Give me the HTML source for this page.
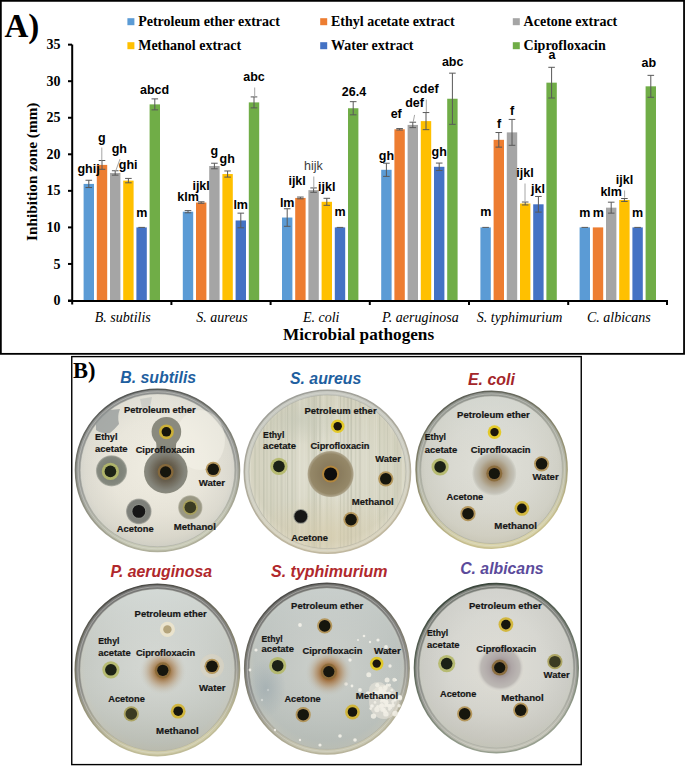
<!DOCTYPE html>
<html><head><meta charset="utf-8"><style>
html,body{margin:0;padding:0;background:#fff;}
svg{display:block}
text{font-family:"Liberation Serif",serif;}
.leg{font-weight:bold;font-size:14px;fill:#000}
.dl{font-family:"Liberation Sans",sans-serif;font-weight:bold;font-size:12.5px;fill:#000;text-anchor:middle}
.dlr{font-family:"Liberation Sans",sans-serif;font-size:12.5px;fill:#404040;text-anchor:middle}
.eb{stroke:#595959;stroke-width:1;fill:none}
.ld{stroke:#a6a6a6;stroke-width:1}
.ax{stroke:#000;stroke-width:2;fill:none}
.yt{font-weight:bold;font-size:14px;text-anchor:end}
.cat{font-style:italic;font-size:14px;text-anchor:middle}
.xt{font-weight:bold;font-size:17.2px;text-anchor:middle}
.yti{font-weight:bold;font-size:15.3px;text-anchor:middle}
.pa{font-weight:bold;font-size:33px}
.pb{font-weight:bold;font-size:22.5px}
.dt{font-family:"Liberation Sans",sans-serif;font-weight:bold;font-style:italic;font-size:16.5px}
.wl{font-family:"Liberation Sans",sans-serif;font-weight:bold;font-size:9.2px;fill:#161616;stroke:#161616;stroke-width:0.2px}
</style></head><body>
<svg width="685" height="766" viewBox="0 0 685 766">
<rect x="0.85" y="0.85" width="683.2" height="353" fill="none" stroke="#000" stroke-width="1.8"/>
<rect x="127.4" y="18.2" width="7" height="7" fill="#5B9BD5"/>
<text x="138.20000000000002" y="26.0" class="leg">Petroleum ether extract</text>
<rect x="320.2" y="18.2" width="7" height="7" fill="#ED7D31"/>
<text x="331.0" y="26.0" class="leg">Ethyl acetate extract</text>
<rect x="512.8" y="18.2" width="7" height="7" fill="#A5A5A5"/>
<text x="523.5999999999999" y="26.0" class="leg">Acetone extract</text>
<rect x="127.4" y="42.2" width="7" height="7" fill="#FFC000"/>
<text x="138.20000000000002" y="50.0" class="leg">Methanol extract</text>
<rect x="320.2" y="42.2" width="7" height="7" fill="#4472C4"/>
<text x="331.0" y="50.0" class="leg">Water extract</text>
<rect x="512.8" y="42.2" width="7" height="7" fill="#70AD47"/>
<text x="523.5999999999999" y="50.0" class="leg">Ciprofloxacin</text>
<rect x="83.60" y="183.91" width="10.4" height="117.09" fill="#5B9BD5"/>
<rect x="96.80" y="164.90" width="10.4" height="136.10" fill="#ED7D31"/>
<rect x="110.00" y="172.94" width="10.4" height="128.06" fill="#A5A5A5"/>
<rect x="123.20" y="180.62" width="10.4" height="120.38" fill="#FFC000"/>
<rect x="136.40" y="227.40" width="10.4" height="73.60" fill="#4472C4"/>
<rect x="149.60" y="104.37" width="10.4" height="196.63" fill="#70AD47"/>
<rect x="182.80" y="211.68" width="10.4" height="89.32" fill="#5B9BD5"/>
<rect x="196.00" y="202.55" width="10.4" height="98.45" fill="#ED7D31"/>
<rect x="209.20" y="166.00" width="10.4" height="135.00" fill="#A5A5A5"/>
<rect x="222.40" y="174.04" width="10.4" height="126.96" fill="#FFC000"/>
<rect x="235.60" y="220.46" width="10.4" height="80.54" fill="#4472C4"/>
<rect x="248.80" y="102.40" width="10.4" height="198.60" fill="#70AD47"/>
<rect x="282.00" y="217.53" width="10.4" height="83.47" fill="#5B9BD5"/>
<rect x="295.20" y="197.94" width="10.4" height="103.06" fill="#ED7D31"/>
<rect x="308.40" y="190.12" width="10.4" height="110.88" fill="#A5A5A5"/>
<rect x="321.60" y="201.81" width="10.4" height="99.19" fill="#FFC000"/>
<rect x="334.80" y="227.40" width="10.4" height="73.60" fill="#4472C4"/>
<rect x="348.00" y="108.25" width="10.4" height="192.75" fill="#70AD47"/>
<rect x="381.20" y="169.80" width="10.4" height="131.20" fill="#5B9BD5"/>
<rect x="394.40" y="129.30" width="10.4" height="171.70" fill="#ED7D31"/>
<rect x="407.60" y="124.91" width="10.4" height="176.09" fill="#A5A5A5"/>
<rect x="420.80" y="121.11" width="10.4" height="179.89" fill="#FFC000"/>
<rect x="434.00" y="166.80" width="10.4" height="134.20" fill="#4472C4"/>
<rect x="447.20" y="98.74" width="10.4" height="202.26" fill="#70AD47"/>
<rect x="480.40" y="227.40" width="10.4" height="73.60" fill="#5B9BD5"/>
<rect x="493.60" y="139.83" width="10.4" height="161.17" fill="#ED7D31"/>
<rect x="506.80" y="132.37" width="10.4" height="168.63" fill="#A5A5A5"/>
<rect x="520.00" y="203.50" width="10.4" height="97.50" fill="#FFC000"/>
<rect x="533.20" y="204.30" width="10.4" height="96.70" fill="#4472C4"/>
<rect x="546.40" y="82.66" width="10.4" height="218.34" fill="#70AD47"/>
<rect x="579.60" y="227.40" width="10.4" height="73.60" fill="#5B9BD5"/>
<rect x="592.80" y="227.40" width="10.4" height="73.60" fill="#ED7D31"/>
<rect x="606.00" y="207.66" width="10.4" height="93.34" fill="#A5A5A5"/>
<rect x="619.20" y="199.99" width="10.4" height="101.01" fill="#FFC000"/>
<rect x="632.40" y="227.40" width="10.4" height="73.60" fill="#4472C4"/>
<rect x="645.60" y="86.32" width="10.4" height="214.68" fill="#70AD47"/>
<path d="M88.80 180.25V187.56M85.50 180.25h6.6M85.50 187.56h6.6" class="eb"/>
<path d="M102.00 160.51V169.29M98.70 160.51h6.6M98.70 169.29h6.6" class="eb"/>
<path d="M115.20 170.75V175.13M111.90 170.75h6.6M111.90 175.13h6.6" class="eb"/>
<path d="M128.40 178.42V182.81M125.10 178.42h6.6M125.10 182.81h6.6" class="eb"/>
<path d="M138.30 227.40h6.6" class="eb"/>
<path d="M154.80 98.89V109.86M151.50 98.89h6.6M151.50 109.86h6.6" class="eb"/>
<path d="M188.00 210.59V212.78M184.70 210.59h6.6M184.70 212.78h6.6" class="eb"/>
<path d="M201.20 201.81V203.28M197.90 201.81h6.6M197.90 203.28h6.6" class="eb"/>
<path d="M214.40 163.22V168.77M211.10 163.22h6.6M211.10 168.77h6.6" class="eb"/>
<path d="M227.60 170.97V177.11M224.30 170.97h6.6M224.30 177.11h6.6" class="eb"/>
<path d="M240.80 213.15V227.77M237.50 213.15h6.6M237.50 227.77h6.6" class="eb"/>
<path d="M254.00 96.92V107.88M250.70 96.92h6.6M250.70 107.88h6.6" class="eb"/>
<path d="M287.20 208.76V226.30M283.90 208.76h6.6M283.90 226.30h6.6" class="eb"/>
<path d="M300.40 197.06V198.82M297.10 197.06h6.6M297.10 198.82h6.6" class="eb"/>
<path d="M313.60 187.93V192.31M310.30 187.93h6.6M310.30 192.31h6.6" class="eb"/>
<path d="M326.80 198.31V205.32M323.50 198.31h6.6M323.50 205.32h6.6" class="eb"/>
<path d="M336.70 227.40h6.6" class="eb"/>
<path d="M353.20 101.67V114.83M349.90 101.67h6.6M349.90 114.83h6.6" class="eb"/>
<path d="M386.40 163.22V176.38M383.10 163.22h6.6M383.10 176.38h6.6" class="eb"/>
<path d="M399.60 128.57V130.03M396.30 128.57h6.6M396.30 130.03h6.6" class="eb"/>
<path d="M412.80 122.21V127.62M409.50 122.21h6.6M409.50 127.62h6.6" class="eb"/>
<path d="M426.00 112.56V129.67M422.70 112.56h6.6M422.70 129.67h6.6" class="eb"/>
<path d="M439.20 163.07V170.53M435.90 163.07h6.6M435.90 170.53h6.6" class="eb"/>
<path d="M452.40 73.16V124.33M449.10 73.16h6.6M449.10 124.33h6.6" class="eb"/>
<path d="M482.30 227.40h6.6" class="eb"/>
<path d="M498.80 132.52V147.14M495.50 132.52h6.6M495.50 147.14h6.6" class="eb"/>
<path d="M512.00 119.43V145.31M508.70 119.43h6.6M508.70 145.31h6.6" class="eb"/>
<path d="M525.20 202.03V204.96M521.90 202.03h6.6M521.90 204.96h6.6" class="eb"/>
<path d="M538.40 196.48V212.12M535.10 196.48h6.6M535.10 212.12h6.6" class="eb"/>
<path d="M551.60 67.31V98.01M548.30 67.31h6.6M548.30 98.01h6.6" class="eb"/>
<path d="M581.50 227.40h6.6" class="eb"/>
<path d="M611.20 202.18V213.15M607.90 202.18h6.6M607.90 213.15h6.6" class="eb"/>
<path d="M624.40 198.53V201.45M621.10 198.53h6.6M621.10 201.45h6.6" class="eb"/>
<path d="M634.30 227.40h6.6" class="eb"/>
<path d="M650.80 75.35V97.28M647.50 75.35h6.6M647.50 97.28h6.6" class="eb"/>
<line x1="101.8" y1="147.5" x2="101.8" y2="160.5" class="ld"/>
<line x1="120.0" y1="159.0" x2="115.7" y2="171.0" class="ld"/>
<line x1="254.7" y1="87.5" x2="254.7" y2="96.5" class="ld"/>
<line x1="313.8" y1="176.5" x2="313.8" y2="188.8" class="ld"/>
<line x1="414.6" y1="114.9" x2="413.2" y2="121.9" class="ld"/>
<line x1="426.3" y1="99.6" x2="426.3" y2="112.0" class="ld"/>
<line x1="525.0" y1="183.5" x2="525.0" y2="201.3" class="ld"/>
<line x1="624.6" y1="190.5" x2="624.6" y2="197.6" class="ld"/>
<text x="88.6" y="173.3" class="dl">ghij</text>
<text x="101.8" y="141.8" class="dl">g</text>
<text x="119.3" y="152.8" class="dl">gh</text>
<text x="128.2" y="169.2" class="dl">ghi</text>
<text x="141.8" y="216.8" class="dl">m</text>
<text x="154.6" y="93.5" class="dl">abcd</text>
<text x="188.1" y="200.5" class="dl">klm</text>
<text x="201.1" y="189.7" class="dl">ijkl</text>
<text x="214.2" y="155.0" class="dl">g</text>
<text x="227.2" y="163.4" class="dl">gh</text>
<text x="240.7" y="209.2" class="dl">lm</text>
<text x="254.0" y="81.1" class="dl">abc</text>
<text x="287.2" y="206.9" class="dl">lm</text>
<text x="297.1" y="185.0" class="dl">ijkl</text>
<text x="313.4" y="170.4" class="dlr">hijk</text>
<text x="326.7" y="190.6" class="dl">ijkl</text>
<text x="340.1" y="216.2" class="dl">m</text>
<text x="354.0" y="96.4" class="dl">26.4</text>
<text x="386.4" y="159.5" class="dl">gh</text>
<text x="396.2" y="118.4" class="dl">ef</text>
<text x="414.6" y="107.1" class="dl">def</text>
<text x="425.7" y="92.6" class="dl">cdef</text>
<text x="439.2" y="156.0" class="dl">gh</text>
<text x="452.7" y="66.3" class="dl">abc</text>
<text x="485.7" y="216.2" class="dl">m</text>
<text x="499.0" y="128.1" class="dl">f</text>
<text x="512.2" y="114.5" class="dl">f</text>
<text x="525.0" y="176.5" class="dl">ijkl</text>
<text x="538.0" y="192.6" class="dl">jkl</text>
<text x="551.9" y="59.4" class="dl">a</text>
<text x="584.8" y="217.0" class="dl">m</text>
<text x="598.2" y="217.0" class="dl">m</text>
<text x="611.2" y="196.4" class="dl">klm</text>
<text x="624.5" y="184.0" class="dl">ijkl</text>
<text x="637.6" y="217.0" class="dl">m</text>
<text x="648.8" y="66.8" class="dl">ab</text>
<path d="M72.2 44.6V304.5M68 301H667V305" class="ax"/>
<path d="M68 300.50H72" class="ax"/>
<text x="60.5" y="305.10" class="yt">0</text>
<path d="M68 263.95H72" class="ax"/>
<text x="60.5" y="268.55" class="yt">5</text>
<path d="M68 227.40H72" class="ax"/>
<text x="60.5" y="232.00" class="yt">10</text>
<path d="M68 190.85H72" class="ax"/>
<text x="60.5" y="195.45" class="yt">15</text>
<path d="M68 154.30H72" class="ax"/>
<text x="60.5" y="158.90" class="yt">20</text>
<path d="M68 117.75H72" class="ax"/>
<text x="60.5" y="122.35" class="yt">25</text>
<path d="M68 81.20H72" class="ax"/>
<text x="60.5" y="85.80" class="yt">30</text>
<path d="M68 44.65H72" class="ax"/>
<text x="60.5" y="49.25" class="yt">35</text>
<path d="M171.40 301V305" class="ax"/>
<path d="M270.60 301V305" class="ax"/>
<path d="M369.80 301V305" class="ax"/>
<path d="M469.00 301V305" class="ax"/>
<path d="M568.20 301V305" class="ax"/>
<text x="122.80" y="322.2" class="cat">B. subtilis</text>
<text x="222.00" y="322.2" class="cat">S. aureus</text>
<text x="321.20" y="322.2" class="cat">E. coli</text>
<text x="420.40" y="322.2" class="cat">P. aeruginosa</text>
<text x="519.60" y="322.2" class="cat">S. typhimurium</text>
<text x="618.80" y="322.2" class="cat">C. albicans</text>
<text x="358.6" y="340" class="xt">Microbial pathogens</text>
<text transform="translate(37.4 171.8) rotate(-90)" class="yti">Inhibition zone (mm)</text>
<text x="4.5" y="37.4" class="pa">A)</text>
<rect x="71.75" y="356.6" width="509.5" height="408" fill="none" stroke="#000" stroke-width="1.4"/>
<text x="73" y="378.3" class="pb">B)</text>
<defs><radialGradient id="ag0" cx="50%" cy="48%" r="52%"><stop offset="0" stop-color="#f0ede2"/><stop offset="0.6" stop-color="#e8e5da"/><stop offset="0.9" stop-color="#dcdad0"/><stop offset="1" stop-color="#d2d2ca"/></radialGradient><linearGradient id="rm0" x1="0" y1="0" x2="0.2" y2="1"><stop offset="0" stop-color="#8a8c8c"/><stop offset="0.6" stop-color="#9c9e9a"/><stop offset="1" stop-color="#c8cab6"/></linearGradient><linearGradient id="re0" x1="0" y1="0" x2="0.3" y2="1"><stop offset="0" stop-color="#4a4c4c"/><stop offset="1" stop-color="#b0b09c"/></linearGradient><linearGradient id="ov0" x1="0" y1="0" x2="0" y2="1"><stop offset="0" stop-color="#f4f4ee" stop-opacity="0.2"/><stop offset="0.5" stop-color="#f0ece0" stop-opacity="0.0"/><stop offset="1" stop-color="#c8c4b0" stop-opacity="0.25"/></linearGradient><radialGradient id="kz0"><stop offset="0" stop-color="#4a4234"/><stop offset="0.45" stop-color="#686050"/><stop offset="0.85" stop-color="#84847a"/><stop offset="1" stop-color="#8a8a7e"/></radialGradient><radialGradient id="z0_1"><stop offset="0" stop-color="#7a7e74" stop-opacity="1"/><stop offset="0.7" stop-color="#80847a" stop-opacity="1"/><stop offset="0.9" stop-color="#868a80" stop-opacity="1"/><stop offset="1" stop-color="#868a80" stop-opacity="0.5"/></radialGradient><radialGradient id="z0_2"><stop offset="0" stop-color="#7c7e78" stop-opacity="1"/><stop offset="0.88" stop-color="#7e807a" stop-opacity="1"/><stop offset="1" stop-color="#7e807a" stop-opacity="0.5"/></radialGradient><radialGradient id="z0_3"><stop offset="0" stop-color="#9a9884" stop-opacity="1"/><stop offset="0.88" stop-color="#9a9884" stop-opacity="1"/><stop offset="1" stop-color="#9a9884" stop-opacity="0.5"/></radialGradient><radialGradient id="ag1" cx="50%" cy="48%" r="52%"><stop offset="0" stop-color="#e2e0d2"/><stop offset="0.6" stop-color="#d8d7c6"/><stop offset="0.9" stop-color="#d4d2bf"/><stop offset="1" stop-color="#dcd9c8"/></radialGradient><linearGradient id="rm1" x1="0" y1="0" x2="0.2" y2="1"><stop offset="0" stop-color="#c4c6c0"/><stop offset="0.6" stop-color="#d0d0c4"/><stop offset="1" stop-color="#d8d2bc"/></linearGradient><linearGradient id="re1" x1="0" y1="0" x2="0.3" y2="1"><stop offset="0" stop-color="#9a9c98"/><stop offset="1" stop-color="#c0b8a0"/></linearGradient><radialGradient id="z1_0"><stop offset="0" stop-color="#7e7054" stop-opacity="1"/><stop offset="0.4" stop-color="#8a7c5e" stop-opacity="1"/><stop offset="0.85" stop-color="#958868" stop-opacity="1"/><stop offset="0.95" stop-color="#a09478" stop-opacity="0.8"/><stop offset="1" stop-color="#b0a890" stop-opacity="0"/></radialGradient><radialGradient id="ag2" cx="50%" cy="48%" r="52%"><stop offset="0" stop-color="#e0e0d8"/><stop offset="0.6" stop-color="#d8d8d0"/><stop offset="0.9" stop-color="#d0d0c6"/><stop offset="1" stop-color="#c8c8bc"/></radialGradient><linearGradient id="rm2" x1="0" y1="0" x2="0.2" y2="1"><stop offset="0" stop-color="#8a8e8a"/><stop offset="0.6" stop-color="#b4b6a8"/><stop offset="1" stop-color="#d8d2a8"/></linearGradient><linearGradient id="re2" x1="0" y1="0" x2="0.3" y2="1"><stop offset="0" stop-color="#505450"/><stop offset="1" stop-color="#c8c090"/></linearGradient><linearGradient id="ov2" x1="0" y1="0" x2="0" y2="1"><stop offset="0" stop-color="#dce4e4" stop-opacity="0.35"/><stop offset="0.5" stop-color="#d8d8d0" stop-opacity="0.0"/><stop offset="1" stop-color="#d0c8b0" stop-opacity="0.3"/></linearGradient><radialGradient id="z2_0"><stop offset="0" stop-color="#6c5030" stop-opacity="1"/><stop offset="0.3" stop-color="#9a8262" stop-opacity="1"/><stop offset="0.52" stop-color="#ac9e84" stop-opacity="1"/><stop offset="0.68" stop-color="#b8b2a2" stop-opacity="1"/><stop offset="0.88" stop-color="#c4c2b8" stop-opacity="1"/><stop offset="0.96" stop-color="#cacac0" stop-opacity="0.6"/><stop offset="1" stop-color="#d0d0c6" stop-opacity="0"/></radialGradient><radialGradient id="ag3" cx="50%" cy="48%" r="52%"><stop offset="0" stop-color="#d6d9d4"/><stop offset="0.6" stop-color="#ccd0cb"/><stop offset="0.9" stop-color="#c6cac4"/><stop offset="1" stop-color="#c8c8bc"/></radialGradient><linearGradient id="rm3" x1="0" y1="0" x2="0.2" y2="1"><stop offset="0" stop-color="#707070"/><stop offset="0.6" stop-color="#8e8e8a"/><stop offset="1" stop-color="#d0cca8"/></linearGradient><linearGradient id="re3" x1="0" y1="0" x2="0.3" y2="1"><stop offset="0" stop-color="#3c3c3c"/><stop offset="1" stop-color="#c0bc98"/></linearGradient><linearGradient id="ov3" x1="0" y1="0" x2="0" y2="1"><stop offset="0" stop-color="#e4ecec" stop-opacity="0.45"/><stop offset="0.45" stop-color="#d0d4d0" stop-opacity="0.0"/><stop offset="1" stop-color="#a8aa9c" stop-opacity="0.45"/></linearGradient><radialGradient id="z3_0"><stop offset="0" stop-color="#704818" stop-opacity="1"/><stop offset="0.3" stop-color="#9a6a34" stop-opacity="0.9"/><stop offset="0.55" stop-color="#b08c64" stop-opacity="0.6"/><stop offset="0.8" stop-color="#c0b4a0" stop-opacity="0.3"/><stop offset="1" stop-color="#ccd0cb" stop-opacity="0"/></radialGradient><radialGradient id="ag4" cx="50%" cy="48%" r="52%"><stop offset="0" stop-color="#ccd0cb"/><stop offset="0.6" stop-color="#c2c7c3"/><stop offset="0.9" stop-color="#bcc2be"/><stop offset="1" stop-color="#c4c6bc"/></radialGradient><linearGradient id="rm4" x1="0" y1="0" x2="0.2" y2="1"><stop offset="0" stop-color="#6e6e6c"/><stop offset="0.6" stop-color="#8c8c8a"/><stop offset="1" stop-color="#c8c6b0"/></linearGradient><linearGradient id="re4" x1="0" y1="0" x2="0.3" y2="1"><stop offset="0" stop-color="#3c3c3c"/><stop offset="1" stop-color="#b8b49c"/></linearGradient><linearGradient id="ov4" x1="0" y1="0" x2="0" y2="1"><stop offset="0" stop-color="#e0e6e6" stop-opacity="0.35"/><stop offset="0.45" stop-color="#ccd0cc" stop-opacity="0.0"/><stop offset="1" stop-color="#aab0a8" stop-opacity="0.4"/></linearGradient><radialGradient id="z4_0"><stop offset="0" stop-color="#6c4010" stop-opacity="1"/><stop offset="0.3" stop-color="#9a6028" stop-opacity="0.9"/><stop offset="0.55" stop-color="#b08a60" stop-opacity="0.65"/><stop offset="0.8" stop-color="#bcb09c" stop-opacity="0.3"/><stop offset="1" stop-color="#c4c8c2" stop-opacity="0"/></radialGradient><radialGradient id="ag5" cx="50%" cy="48%" r="52%"><stop offset="0" stop-color="#e0ded6"/><stop offset="0.6" stop-color="#d6d6d0"/><stop offset="0.9" stop-color="#ccccc6"/><stop offset="1" stop-color="#c8cac0"/></radialGradient><linearGradient id="rm5" x1="0" y1="0" x2="0.2" y2="1"><stop offset="0" stop-color="#747872"/><stop offset="0.6" stop-color="#8e908c"/><stop offset="1" stop-color="#c0c0b4"/></linearGradient><linearGradient id="re5" x1="0" y1="0" x2="0.3" y2="1"><stop offset="0" stop-color="#2e3a30"/><stop offset="1" stop-color="#98a090"/></linearGradient><linearGradient id="ov5" x1="0" y1="0" x2="0" y2="1"><stop offset="0" stop-color="#e6e8e6" stop-opacity="0.25"/><stop offset="0.5" stop-color="#d8d8d0" stop-opacity="0.0"/><stop offset="1" stop-color="#b8b4a4" stop-opacity="0.3"/></linearGradient><radialGradient id="z5_0"><stop offset="0" stop-color="#8a7c78" stop-opacity="1"/><stop offset="0.28" stop-color="#9c9090" stop-opacity="1"/><stop offset="0.45" stop-color="#aea6a6" stop-opacity="1"/><stop offset="0.62" stop-color="#b6b0ae" stop-opacity="1"/><stop offset="0.78" stop-color="#bcb8b4" stop-opacity="1"/><stop offset="0.86" stop-color="#d2d0ca" stop-opacity="1"/><stop offset="0.94" stop-color="#dcdad2" stop-opacity="0.8"/><stop offset="1" stop-color="#d8d8d0" stop-opacity="0"/></radialGradient><radialGradient id="warm2"><stop offset="0" stop-color="#d8ccaa" stop-opacity="0.6"/><stop offset="1" stop-color="#d8ccaa" stop-opacity="0"/></radialGradient><radialGradient id="cool2"><stop offset="0" stop-color="#c0c4b4" stop-opacity="0.5"/><stop offset="1" stop-color="#c0c4b4" stop-opacity="0"/></radialGradient><clipPath id="c2"><ellipse cx="327.4" cy="471.8" rx="78.4" ry="76.8"/></clipPath><radialGradient id="blue5"><stop offset="0" stop-color="#98a6ac" stop-opacity="0.6"/><stop offset="1" stop-color="#98a6ac" stop-opacity="0"/></radialGradient><filter id="bl" x="-5%" y="-5%" width="110%" height="110%"><feGaussianBlur stdDeviation="0.5"/></filter></defs>
<g filter="url(#bl)"><ellipse cx="157.5" cy="470.3" rx="82.0" ry="81.10000000000001" fill="url(#rm0)" stroke="url(#re0)" stroke-width="1.6"/>
<ellipse cx="157.5" cy="470.3" rx="79.39999999999999" ry="78.5" fill="none" stroke="#e2e2da" stroke-opacity="0.4" stroke-width="1.0"/>
<ellipse cx="157.5" cy="470.3" rx="77.3" ry="76.4" fill="url(#ag0)" stroke="#9a9c96" stroke-opacity="0.6" stroke-width="0.7"/>
<ellipse cx="157.5" cy="470.3" rx="76.89999999999999" ry="76.0" fill="url(#ov0)"/>
<ellipse cx="327.4" cy="471.8" rx="83.10000000000001" ry="81.5" fill="url(#rm1)" stroke="url(#re1)" stroke-width="1.6"/>
<ellipse cx="327.4" cy="471.8" rx="80.5" ry="78.89999999999999" fill="none" stroke="#e2e2da" stroke-opacity="0.4" stroke-width="1.0"/>
<ellipse cx="327.4" cy="471.8" rx="78.4" ry="76.8" fill="url(#ag1)" stroke="#9a9c96" stroke-opacity="0.6" stroke-width="0.7"/>
<ellipse cx="491.6" cy="469.75" rx="75.5" ry="78.45" fill="url(#rm2)" stroke="url(#re2)" stroke-width="1.6"/>
<ellipse cx="491.6" cy="469.75" rx="72.89999999999999" ry="75.85" fill="none" stroke="#e2e2da" stroke-opacity="0.4" stroke-width="1.0"/>
<ellipse cx="491.6" cy="469.75" rx="70.8" ry="73.75" fill="url(#ag2)" stroke="#9a9c96" stroke-opacity="0.6" stroke-width="0.7"/>
<ellipse cx="491.6" cy="469.75" rx="70.39999999999999" ry="73.35" fill="url(#ov2)"/>
<ellipse cx="157.4" cy="669.9" rx="82.10000000000001" ry="85.7" fill="url(#rm3)" stroke="url(#re3)" stroke-width="1.6"/>
<ellipse cx="157.4" cy="669.9" rx="79.5" ry="83.1" fill="none" stroke="#e2e2da" stroke-opacity="0.4" stroke-width="1.0"/>
<ellipse cx="157.4" cy="669.9" rx="77.4" ry="81.0" fill="url(#ag3)" stroke="#9a9c96" stroke-opacity="0.6" stroke-width="0.7"/>
<ellipse cx="157.4" cy="669.9" rx="77.0" ry="80.6" fill="url(#ov3)"/>
<ellipse cx="326.9" cy="668.6" rx="82.2" ry="85.4" fill="url(#rm4)" stroke="url(#re4)" stroke-width="1.6"/>
<ellipse cx="326.9" cy="668.6" rx="79.6" ry="82.8" fill="none" stroke="#e2e2da" stroke-opacity="0.4" stroke-width="1.0"/>
<ellipse cx="326.9" cy="668.6" rx="77.5" ry="80.7" fill="url(#ag4)" stroke="#9a9c96" stroke-opacity="0.6" stroke-width="0.7"/>
<ellipse cx="326.9" cy="668.6" rx="77.1" ry="80.3" fill="url(#ov4)"/>
<ellipse cx="496.35" cy="668.1" rx="81.85000000000001" ry="84.5" fill="url(#rm5)" stroke="url(#re5)" stroke-width="1.6"/>
<ellipse cx="496.35" cy="668.1" rx="79.25" ry="81.89999999999999" fill="none" stroke="#e2e2da" stroke-opacity="0.4" stroke-width="1.0"/>
<ellipse cx="496.35" cy="668.1" rx="77.15" ry="79.8" fill="url(#ag5)" stroke="#9a9c96" stroke-opacity="0.6" stroke-width="0.7"/>
<ellipse cx="496.35" cy="668.1" rx="76.75" ry="79.39999999999999" fill="url(#ov5)"/>
<path d="M96 424 Q100 414 110 410 L120 409 Q117 416 119 424 Q114 430 110 433 Q102 434 96 430 Z" fill="#8e9494" opacity="0.7"/>
<path d="M140 399 L152 397 L150 407 L142 408 Z" fill="#a4a8a8" opacity="0.35"/>
<ellipse cx="200" cy="440" rx="25" ry="30" fill="#f6f4ea" opacity="0.5"/>
<g clip-path="url(#c2)"><rect x="250.0" y="390" width="1.0" height="165" fill="#f0eee2" opacity="0.24"/><rect x="254.3" y="390" width="1.4" height="165" fill="#a8ac98" opacity="0.25"/><rect x="258.6" y="390" width="1.4" height="165" fill="#b4b6a0" opacity="0.24"/><rect x="263.1" y="390" width="1.4" height="165" fill="#9ea290" opacity="0.31"/><rect x="266.0" y="390" width="2.0" height="165" fill="#b4b6a0" opacity="0.16"/><rect x="270.2" y="390" width="1.4" height="165" fill="#a8ac98" opacity="0.29"/><rect x="272.6" y="390" width="2.1" height="165" fill="#a8ac98" opacity="0.11"/><rect x="276.7" y="390" width="1.0" height="165" fill="#9ea290" opacity="0.25"/><rect x="280.5" y="390" width="2.1" height="165" fill="#9ea290" opacity="0.20"/><rect x="284.9" y="390" width="0.8" height="165" fill="#a8ac98" opacity="0.19"/><rect x="287.2" y="390" width="0.9" height="165" fill="#9ea290" opacity="0.34"/><rect x="291.2" y="390" width="2.0" height="165" fill="#9ea290" opacity="0.21"/><rect x="294.6" y="390" width="1.5" height="165" fill="#b4b6a0" opacity="0.20"/><rect x="298.8" y="390" width="1.7" height="165" fill="#f0eee2" opacity="0.33"/><rect x="303.3" y="390" width="1.7" height="165" fill="#f0eee2" opacity="0.14"/><rect x="307.7" y="390" width="2.0" height="165" fill="#b4b6a0" opacity="0.24"/><rect x="311.3" y="390" width="2.2" height="165" fill="#a8ac98" opacity="0.17"/><rect x="313.5" y="390" width="2.0" height="165" fill="#a8ac98" opacity="0.35"/><rect x="316.3" y="390" width="0.7" height="165" fill="#a8ac98" opacity="0.32"/><rect x="319.1" y="390" width="1.8" height="165" fill="#a8ac98" opacity="0.32"/><rect x="322.6" y="390" width="1.8" height="165" fill="#f0eee2" opacity="0.19"/><rect x="326.0" y="390" width="2.1" height="165" fill="#b4b6a0" opacity="0.17"/><rect x="330.5" y="390" width="1.1" height="165" fill="#a8ac98" opacity="0.12"/><rect x="334.8" y="390" width="2.2" height="165" fill="#f0eee2" opacity="0.17"/><rect x="337.2" y="390" width="0.7" height="165" fill="#f0eee2" opacity="0.32"/><rect x="340.1" y="390" width="0.8" height="165" fill="#9ea290" opacity="0.32"/><rect x="343.3" y="390" width="1.4" height="165" fill="#a8ac98" opacity="0.26"/><rect x="346.8" y="390" width="2.1" height="165" fill="#9ea290" opacity="0.23"/><rect x="350.4" y="390" width="1.7" height="165" fill="#9ea290" opacity="0.33"/><rect x="354.9" y="390" width="1.4" height="165" fill="#a8ac98" opacity="0.24"/><rect x="358.8" y="390" width="2.2" height="165" fill="#9ea290" opacity="0.18"/><rect x="362.4" y="390" width="1.6" height="165" fill="#f0eee2" opacity="0.12"/><rect x="365.5" y="390" width="1.7" height="165" fill="#f0eee2" opacity="0.19"/><rect x="369.4" y="390" width="0.6" height="165" fill="#a8ac98" opacity="0.12"/><rect x="373.8" y="390" width="1.0" height="165" fill="#f0eee2" opacity="0.21"/><rect x="376.2" y="390" width="0.9" height="165" fill="#f0eee2" opacity="0.29"/><rect x="379.0" y="390" width="1.2" height="165" fill="#a8ac98" opacity="0.29"/><rect x="383.4" y="390" width="1.7" height="165" fill="#b4b6a0" opacity="0.13"/><rect x="387.0" y="390" width="1.0" height="165" fill="#9ea290" opacity="0.18"/><rect x="390.7" y="390" width="0.8" height="165" fill="#f0eee2" opacity="0.25"/><rect x="394.4" y="390" width="1.0" height="165" fill="#b4b6a0" opacity="0.30"/><rect x="396.6" y="390" width="1.8" height="165" fill="#9ea290" opacity="0.15"/><rect x="399.2" y="390" width="1.9" height="165" fill="#b4b6a0" opacity="0.11"/><rect x="402.0" y="390" width="1.9" height="165" fill="#f0eee2" opacity="0.24"/><rect x="404.9" y="390" width="1.9" height="165" fill="#f0eee2" opacity="0.12"/><ellipse cx="327" cy="535" rx="80" ry="40" fill="url(#warm2)"/><ellipse cx="300" cy="420" rx="40" ry="25" fill="url(#cool2)"/></g>
<ellipse cx="384" cy="702" rx="15" ry="17" fill="#ece8dc" opacity="0.55"/><ellipse cx="378" cy="690" rx="9" ry="8" fill="#f0ece0" opacity="0.5"/><circle cx="382.0" cy="705.1" r="2.2" fill="#f2f0e6" opacity="0.85"/><circle cx="392.9" cy="705.4" r="1.8" fill="#f2f0e6" opacity="0.85"/><circle cx="392.9" cy="704.2" r="1.3" fill="#f2f0e6" opacity="0.85"/><circle cx="381.2" cy="701.5" r="1.3" fill="#f2f0e6" opacity="0.85"/><circle cx="370.7" cy="708.6" r="1.4" fill="#f2f0e6" opacity="0.85"/><circle cx="385.9" cy="713.9" r="2.7" fill="#f2f0e6" opacity="0.85"/><circle cx="376.9" cy="695.3" r="2.8" fill="#f2f0e6" opacity="0.85"/><circle cx="399.1" cy="705.7" r="1.7" fill="#f2f0e6" opacity="0.85"/><circle cx="386.5" cy="703.9" r="1.7" fill="#f2f0e6" opacity="0.85"/><circle cx="386.0" cy="694.2" r="2.1" fill="#f2f0e6" opacity="0.85"/><circle cx="379.0" cy="692.6" r="2.1" fill="#f2f0e6" opacity="0.85"/><circle cx="386.6" cy="701.3" r="1.5" fill="#f2f0e6" opacity="0.85"/><circle cx="380.4" cy="690.4" r="1.7" fill="#f2f0e6" opacity="0.85"/><circle cx="376.4" cy="694.4" r="1.7" fill="#f2f0e6" opacity="0.85"/><circle cx="387.4" cy="685.1" r="1.6" fill="#f2f0e6" opacity="0.85"/><circle cx="375.3" cy="694.5" r="2.6" fill="#f2f0e6" opacity="0.85"/><circle cx="383.2" cy="691.8" r="2.8" fill="#f2f0e6" opacity="0.85"/><circle cx="390.1" cy="707.0" r="2.4" fill="#f2f0e6" opacity="0.85"/><circle cx="389.4" cy="709.5" r="1.3" fill="#f2f0e6" opacity="0.85"/><circle cx="377.3" cy="685.2" r="2.1" fill="#f2f0e6" opacity="0.85"/><circle cx="388.9" cy="693.9" r="2.3" fill="#f2f0e6" opacity="0.85"/><circle cx="375.3" cy="692.6" r="1.9" fill="#f2f0e6" opacity="0.85"/><circle cx="394.3" cy="679.7" r="2.0" fill="#f2f0e6" opacity="0.85"/><circle cx="382.5" cy="697.0" r="2.3" fill="#f2f0e6" opacity="0.85"/><circle cx="368.8" cy="674.8" r="2.5" fill="#f2f0e6" opacity="0.85"/><circle cx="382.3" cy="709.6" r="2.3" fill="#f2f0e6" opacity="0.85"/><circle cx="392.8" cy="701.6" r="1.5" fill="#f2f0e6" opacity="0.85"/><circle cx="386.1" cy="702.3" r="2.4" fill="#f2f0e6" opacity="0.85"/><circle cx="388.1" cy="705.5" r="1.8" fill="#f2f0e6" opacity="0.85"/><circle cx="386.3" cy="697.0" r="1.9" fill="#f2f0e6" opacity="0.85"/><circle cx="368.2" cy="693.7" r="2.5" fill="#f2f0e6" opacity="0.85"/><circle cx="388.2" cy="693.9" r="1.9" fill="#f2f0e6" opacity="0.85"/><circle cx="373.5" cy="716.1" r="2.7" fill="#f2f0e6" opacity="0.85"/><circle cx="386.9" cy="705.1" r="1.6" fill="#f2f0e6" opacity="0.85"/><circle cx="385.0" cy="711.5" r="2.1" fill="#f2f0e6" opacity="0.85"/><circle cx="383.9" cy="700.9" r="1.9" fill="#f2f0e6" opacity="0.85"/><circle cx="377.0" cy="709.5" r="2.7" fill="#f2f0e6" opacity="0.85"/><circle cx="380.5" cy="688.8" r="2.2" fill="#f2f0e6" opacity="0.85"/><circle cx="382.8" cy="697.0" r="2.6" fill="#f2f0e6" opacity="0.85"/><circle cx="387.1" cy="680.0" r="2.5" fill="#f2f0e6" opacity="0.85"/><circle cx="377.7" cy="706.3" r="1.4" fill="#f2f0e6" opacity="0.85"/><circle cx="382.1" cy="697.3" r="1.3" fill="#f2f0e6" opacity="0.85"/><circle cx="385.2" cy="705.8" r="1.7" fill="#f2f0e6" opacity="0.85"/><circle cx="384.2" cy="700.1" r="1.4" fill="#f2f0e6" opacity="0.85"/><circle cx="390.1" cy="705.7" r="1.2" fill="#f2f0e6" opacity="0.85"/><circle cx="391.8" cy="690.2" r="1.4" fill="#f2f0e6" opacity="0.85"/><circle cx="383.9" cy="709.2" r="1.8" fill="#f2f0e6" opacity="0.85"/><circle cx="395.1" cy="713.6" r="2.8" fill="#f2f0e6" opacity="0.85"/><circle cx="375.0" cy="702.4" r="1.3" fill="#f2f0e6" opacity="0.85"/><circle cx="389.9" cy="705.5" r="1.6" fill="#f2f0e6" opacity="0.85"/><circle cx="386.3" cy="694.8" r="1.2" fill="#f2f0e6" opacity="0.85"/><circle cx="393.3" cy="696.3" r="1.4" fill="#f2f0e6" opacity="0.85"/><circle cx="382.2" cy="699.4" r="2.0" fill="#f2f0e6" opacity="0.85"/><circle cx="399.8" cy="697.3" r="2.3" fill="#f2f0e6" opacity="0.85"/><circle cx="383.5" cy="709.5" r="1.5" fill="#f2f0e6" opacity="0.85"/><circle cx="385.4" cy="687.8" r="2.4" fill="#f2f0e6" opacity="0.85"/><circle cx="381.3" cy="706.2" r="2.5" fill="#f2f0e6" opacity="0.85"/><circle cx="399.6" cy="698.1" r="2.5" fill="#f2f0e6" opacity="0.85"/><circle cx="389.5" cy="685.1" r="1.6" fill="#f2f0e6" opacity="0.85"/><circle cx="376.5" cy="699.0" r="1.2" fill="#f2f0e6" opacity="0.85"/><circle cx="358" cy="640" r="1.0" fill="#f4f2ea" opacity="0.9"/><circle cx="364" cy="636" r="1.3" fill="#f4f2ea" opacity="0.9"/><circle cx="370" cy="642" r="1.2" fill="#f4f2ea" opacity="0.9"/><circle cx="378" cy="640" r="1.6" fill="#f4f2ea" opacity="0.9"/><circle cx="386" cy="647" r="1.9" fill="#f4f2ea" opacity="0.9"/><circle cx="352" cy="686" r="1.4" fill="#f4f2ea" opacity="0.9"/><circle cx="346" cy="684" r="1.8" fill="#f4f2ea" opacity="0.9"/><circle cx="360" cy="690" r="1.9" fill="#f4f2ea" opacity="0.9"/><circle cx="300" cy="625" r="1.9" fill="#f4f2ea" opacity="0.9"/><circle cx="282" cy="640" r="1.3" fill="#f4f2ea" opacity="0.9"/><circle cx="268" cy="690" r="1.2" fill="#f4f2ea" opacity="0.9"/><circle cx="262" cy="700" r="1.2" fill="#f4f2ea" opacity="0.9"/><circle cx="275" cy="730" r="1.2" fill="#f4f2ea" opacity="0.9"/><circle cx="300" cy="740" r="1.2" fill="#f4f2ea" opacity="0.9"/><circle cx="320" cy="745" r="1.6" fill="#f4f2ea" opacity="0.9"/><circle cx="340" cy="736" r="1.8" fill="#f4f2ea" opacity="0.9"/><circle cx="355" cy="740" r="1.8" fill="#f4f2ea" opacity="0.9"/><circle cx="250" cy="670" r="1.4" fill="#f4f2ea" opacity="0.9"/><circle cx="256" cy="650" r="1.6" fill="#f4f2ea" opacity="0.9"/><circle cx="390" cy="666" r="1.7" fill="#f4f2ea" opacity="0.9"/><circle cx="396" cy="680" r="1.1" fill="#f4f2ea" opacity="0.9"/><circle cx="395" cy="700" r="1.6" fill="#f4f2ea" opacity="0.9"/><circle cx="372" cy="706" r="1.8" fill="#f4f2ea" opacity="0.9"/><circle cx="350" cy="660" r="1.7" fill="#f4f2ea" opacity="0.9"/><circle cx="344" cy="652" r="1.7" fill="#f4f2ea" opacity="0.9"/>
<ellipse cx="266" cy="688" rx="20" ry="30" fill="url(#blue5)"/>
<circle cx="212" cy="666" r="12" fill="#e0d6c0" opacity="0.5"/>
<path d="M155.2 438 Q157.5 446 155.5 452 L176.5 452 Q175 446 177.5 438 Z" fill="#88887c"/>
<circle cx="166.4" cy="431.8" r="14.8" fill="#8a8a7e"/>
<circle cx="165.8" cy="471.6" r="21.8" fill="url(#kz0)"/>
<circle cx="111.5" cy="470.8" r="15.6" fill="url(#z0_1)"/>
<circle cx="138.8" cy="511.4" r="12.8" fill="url(#z0_2)"/>
<circle cx="190.3" cy="507.4" r="12.2" fill="url(#z0_3)"/>
<circle cx="330.6" cy="474.0" r="23.6" fill="url(#z1_0)"/>
<circle cx="494.3" cy="473.5" r="22.5" fill="url(#z2_0)"/>
<circle cx="162.8" cy="671.3" r="24" fill="url(#z3_0)"/>
<circle cx="328.8" cy="672.6" r="24" fill="url(#z4_0)"/>
<circle cx="500.4" cy="667.8" r="25" fill="url(#z5_0)"/>
<circle cx="166.4" cy="431.8" r="7.4" fill="#d2b430" opacity="0.9"/>
<circle cx="166.4" cy="431.8" r="4.8" fill="#16140c"/>
<circle cx="165.6" cy="471.9" r="8.0" fill="#8a6a38" opacity="0.9"/>
<circle cx="165.6" cy="471.9" r="5.6" fill="#141210"/>
<circle cx="110.4" cy="471.4" r="8.6" fill="#b4b868" opacity="0.9"/>
<circle cx="110.4" cy="471.4" r="5.8" fill="#1c2016"/>
<circle cx="213.2" cy="469.3" r="7.6" fill="#b09050" opacity="0.9"/>
<circle cx="213.2" cy="469.3" r="5.8" fill="#141210"/>
<circle cx="138.8" cy="511.4" r="7.4" fill="#8a8c84" opacity="0.9"/>
<circle cx="138.8" cy="511.4" r="6.4" fill="#121212"/>
<circle cx="190.3" cy="507.4" r="7.6" fill="#a8a058" opacity="0.9"/>
<circle cx="190.3" cy="507.4" r="5.8" fill="#3a3a22"/>
<circle cx="337.7" cy="426.2" r="6.8" fill="#e4c818" opacity="0.9"/>
<circle cx="337.7" cy="426.2" r="4.2" fill="#1a160a"/>
<circle cx="330.6" cy="474.0" r="8.6" fill="#b88838" opacity="0.9"/>
<circle cx="330.6" cy="474.0" r="6.6" fill="#100e0c"/>
<circle cx="278.9" cy="466.4" r="8.6" fill="#b4b868" opacity="0.9"/>
<circle cx="278.9" cy="466.4" r="5.8" fill="#1c2016"/>
<circle cx="385.8" cy="478.8" r="7.6" fill="#b09050" opacity="0.9"/>
<circle cx="385.8" cy="478.8" r="5.8" fill="#141210"/>
<circle cx="300.8" cy="516.4" r="7.4" fill="#8a8c84" opacity="0.9"/>
<circle cx="300.8" cy="516.4" r="6.4" fill="#121212"/>
<circle cx="351.0" cy="519.6" r="7.6" fill="#b09050" opacity="0.9"/>
<circle cx="351.0" cy="519.6" r="5.8" fill="#141210"/>
<circle cx="494.5" cy="432.1" r="6.8" fill="#e4c818" opacity="0.9"/>
<circle cx="494.5" cy="432.1" r="4.2" fill="#1a160a"/>
<circle cx="494.3" cy="473.5" r="8.0" fill="#8a6a38" opacity="0.9"/>
<circle cx="494.3" cy="473.5" r="5.6" fill="#141210"/>
<circle cx="440.1" cy="466.9" r="8.6" fill="#b4b868" opacity="0.9"/>
<circle cx="440.1" cy="466.9" r="5.8" fill="#1c2016"/>
<circle cx="541.6" cy="463.8" r="7.6" fill="#b09050" opacity="0.9"/>
<circle cx="541.6" cy="463.8" r="5.8" fill="#141210"/>
<circle cx="468.0" cy="513.7" r="7.6" fill="#b09050" opacity="0.9"/>
<circle cx="468.0" cy="513.7" r="5.8" fill="#141210"/>
<circle cx="521.9" cy="508.4" r="7.4" fill="#d2b430" opacity="0.9"/>
<circle cx="521.9" cy="508.4" r="4.8" fill="#16140c"/>
<circle cx="167.4" cy="629.4" r="7.6" fill="#ece4cc" opacity="0.9"/>
<circle cx="167.4" cy="629.4" r="4.2" fill="#b4a47c"/>
<circle cx="162.8" cy="670.3" r="8.0" fill="#8a6a38" opacity="0.9"/>
<circle cx="162.8" cy="670.3" r="5.6" fill="#141210"/>
<circle cx="110.9" cy="669.8" r="8.6" fill="#b4b868" opacity="0.9"/>
<circle cx="110.9" cy="669.8" r="5.8" fill="#1c2016"/>
<circle cx="212.0" cy="666.3" r="7.6" fill="#b09050" opacity="0.9"/>
<circle cx="212.0" cy="666.3" r="5.8" fill="#141210"/>
<circle cx="131.3" cy="713.9" r="7.6" fill="#a8a058" opacity="0.9"/>
<circle cx="131.3" cy="713.9" r="5.8" fill="#3a3a22"/>
<circle cx="178.2" cy="711.2" r="7.4" fill="#d2b430" opacity="0.9"/>
<circle cx="178.2" cy="711.2" r="4.8" fill="#16140c"/>
<circle cx="324.7" cy="625.9" r="7.6" fill="#b09050" opacity="0.9"/>
<circle cx="324.7" cy="625.9" r="5.8" fill="#141210"/>
<circle cx="328.8" cy="671.6" r="8.0" fill="#8a6a38" opacity="0.9"/>
<circle cx="328.8" cy="671.6" r="5.6" fill="#141210"/>
<circle cx="277.7" cy="665.7" r="8.6" fill="#b4b868" opacity="0.9"/>
<circle cx="277.7" cy="665.7" r="5.8" fill="#1c2016"/>
<circle cx="376.7" cy="663.6" r="6.8" fill="#e4c818" opacity="0.9"/>
<circle cx="376.7" cy="663.6" r="4.2" fill="#1a160a"/>
<circle cx="303.2" cy="714.7" r="7.6" fill="#b09050" opacity="0.9"/>
<circle cx="303.2" cy="714.7" r="5.8" fill="#141210"/>
<circle cx="352.5" cy="712.0" r="7.4" fill="#d2b430" opacity="0.9"/>
<circle cx="352.5" cy="712.0" r="4.8" fill="#16140c"/>
<circle cx="505.9" cy="624.6" r="7.4" fill="#d2b430" opacity="0.9"/>
<circle cx="505.9" cy="624.6" r="4.8" fill="#16140c"/>
<circle cx="499.7" cy="667.6" r="8.0" fill="#8a6a38" opacity="0.9"/>
<circle cx="499.7" cy="667.6" r="5.6" fill="#141210"/>
<circle cx="446.7" cy="663.6" r="8.6" fill="#b4b868" opacity="0.9"/>
<circle cx="446.7" cy="663.6" r="5.8" fill="#1c2016"/>
<circle cx="554.9" cy="661.7" r="7.6" fill="#a8a058" opacity="0.9"/>
<circle cx="554.9" cy="661.7" r="5.8" fill="#3a3a22"/>
<circle cx="464.7" cy="713.9" r="7.6" fill="#b09050" opacity="0.9"/>
<circle cx="464.7" cy="713.9" r="5.8" fill="#141210"/>
<circle cx="520.7" cy="710.1" r="7.6" fill="#b09050" opacity="0.9"/>
<circle cx="520.7" cy="710.1" r="5.8" fill="#141210"/></g>
<text x="120.2" y="382.8" textLength="76.0" lengthAdjust="spacingAndGlyphs" class="dt" fill="#1f5f9f">B. subtilis</text>
<text x="123.9" y="412.8" textLength="71.7" lengthAdjust="spacingAndGlyphs" class="wl">Petroleum ether</text>
<text x="95.0" y="440.0" textLength="22.5" lengthAdjust="spacingAndGlyphs" class="wl">Ethyl</text>
<text x="95.0" y="451.5" textLength="32.6" lengthAdjust="spacingAndGlyphs" class="wl">acetate</text>
<text x="135.7" y="453.0" textLength="59.1" lengthAdjust="spacingAndGlyphs" class="wl">Ciprofloxacin</text>
<text x="198.7" y="486.4" textLength="26.3" lengthAdjust="spacingAndGlyphs" class="wl">Water</text>
<text x="116.8" y="532.4" textLength="36.8" lengthAdjust="spacingAndGlyphs" class="wl">Acetone</text>
<text x="173.8" y="529.8" textLength="42.0" lengthAdjust="spacingAndGlyphs" class="wl">Methanol</text>
<text x="289.9" y="383.6" textLength="71.5" lengthAdjust="spacingAndGlyphs" class="dt" fill="#1f5f9f">S. aureus</text>
<text x="304.4" y="413.9" textLength="72.2" lengthAdjust="spacingAndGlyphs" class="wl">Petroleum ether</text>
<text x="263.1" y="437.5" textLength="21.2" lengthAdjust="spacingAndGlyphs" class="wl">Ethyl</text>
<text x="263.1" y="449.3" textLength="32.9" lengthAdjust="spacingAndGlyphs" class="wl">acetate</text>
<text x="310.4" y="449.3" textLength="59.1" lengthAdjust="spacingAndGlyphs" class="wl">Ciprofloxacin</text>
<text x="375.3" y="462.0" textLength="25.5" lengthAdjust="spacingAndGlyphs" class="wl">Water</text>
<text x="351.7" y="505.3" textLength="42.0" lengthAdjust="spacingAndGlyphs" class="wl">Methanol</text>
<text x="291.2" y="540.8" textLength="36.8" lengthAdjust="spacingAndGlyphs" class="wl">Acetone</text>
<text x="468.0" y="385.0" textLength="46.8" lengthAdjust="spacingAndGlyphs" class="dt" fill="#a3262a">E. coli</text>
<text x="457.0" y="418.3" textLength="72.8" lengthAdjust="spacingAndGlyphs" class="wl">Petroleum ether</text>
<text x="424.7" y="440.1" textLength="21.3" lengthAdjust="spacingAndGlyphs" class="wl">Ethyl</text>
<text x="424.7" y="452.5" textLength="32.6" lengthAdjust="spacingAndGlyphs" class="wl">acetate</text>
<text x="470.7" y="452.5" textLength="59.9" lengthAdjust="spacingAndGlyphs" class="wl">Ciprofloxacin</text>
<text x="532.4" y="480.3" textLength="26.3" lengthAdjust="spacingAndGlyphs" class="wl">Water</text>
<text x="446.5" y="500.0" textLength="36.8" lengthAdjust="spacingAndGlyphs" class="wl">Acetone</text>
<text x="494.3" y="528.7" textLength="42.6" lengthAdjust="spacingAndGlyphs" class="wl">Methanol</text>
<text x="110.4" y="576.7" textLength="101.6" lengthAdjust="spacingAndGlyphs" class="dt" fill="#b0282c">P. aeruginosa</text>
<text x="134.6" y="617.0" textLength="72.1" lengthAdjust="spacingAndGlyphs" class="wl">Petroleum ether</text>
<text x="98.2" y="644.0" textLength="21.2" lengthAdjust="spacingAndGlyphs" class="wl">Ethyl</text>
<text x="98.2" y="655.5" textLength="32.6" lengthAdjust="spacingAndGlyphs" class="wl">acetate</text>
<text x="135.9" y="655.5" textLength="59.2" lengthAdjust="spacingAndGlyphs" class="wl">Ciprofloxacin</text>
<text x="199.1" y="690.5" textLength="26.4" lengthAdjust="spacingAndGlyphs" class="wl">Water</text>
<text x="108.2" y="702.0" textLength="36.6" lengthAdjust="spacingAndGlyphs" class="wl">Acetone</text>
<text x="156.1" y="733.5" textLength="42.5" lengthAdjust="spacingAndGlyphs" class="wl">Methanol</text>
<text x="271.0" y="576.7" textLength="116.4" lengthAdjust="spacingAndGlyphs" class="dt" fill="#b0282c">S. typhimurium</text>
<text x="291.1" y="609.2" textLength="72.1" lengthAdjust="spacingAndGlyphs" class="wl">Petroleum ether</text>
<text x="261.5" y="641.5" textLength="21.2" lengthAdjust="spacingAndGlyphs" class="wl">Ethyl</text>
<text x="261.5" y="652.3" textLength="32.5" lengthAdjust="spacingAndGlyphs" class="wl">acetate</text>
<text x="302.4" y="654.2" textLength="60.0" lengthAdjust="spacingAndGlyphs" class="wl">Ciprofloxacin</text>
<text x="374.0" y="654.2" textLength="26.9" lengthAdjust="spacingAndGlyphs" class="wl">Water</text>
<text x="284.4" y="701.8" textLength="36.3" lengthAdjust="spacingAndGlyphs" class="wl">Acetone</text>
<text x="355.7" y="699.4" textLength="42.5" lengthAdjust="spacingAndGlyphs" class="wl">Methanol</text>
<text x="460.2" y="574.0" textLength="83.4" lengthAdjust="spacingAndGlyphs" class="dt" fill="#5b4b9b">C. albicans</text>
<text x="469.0" y="609.2" textLength="72.7" lengthAdjust="spacingAndGlyphs" class="wl">Petroleum ether</text>
<text x="427.0" y="635.9" textLength="21.2" lengthAdjust="spacingAndGlyphs" class="wl">Ethyl</text>
<text x="427.0" y="648.2" textLength="32.6" lengthAdjust="spacingAndGlyphs" class="wl">acetate</text>
<text x="476.3" y="651.5" textLength="60.0" lengthAdjust="spacingAndGlyphs" class="wl">Ciprofloxacin</text>
<text x="543.6" y="678.4" textLength="26.0" lengthAdjust="spacingAndGlyphs" class="wl">Water</text>
<text x="440.0" y="697.2" textLength="36.3" lengthAdjust="spacingAndGlyphs" class="wl">Acetone</text>
<text x="501.3" y="701.2" textLength="42.3" lengthAdjust="spacingAndGlyphs" class="wl">Methanol</text>
</svg>
</body></html>
